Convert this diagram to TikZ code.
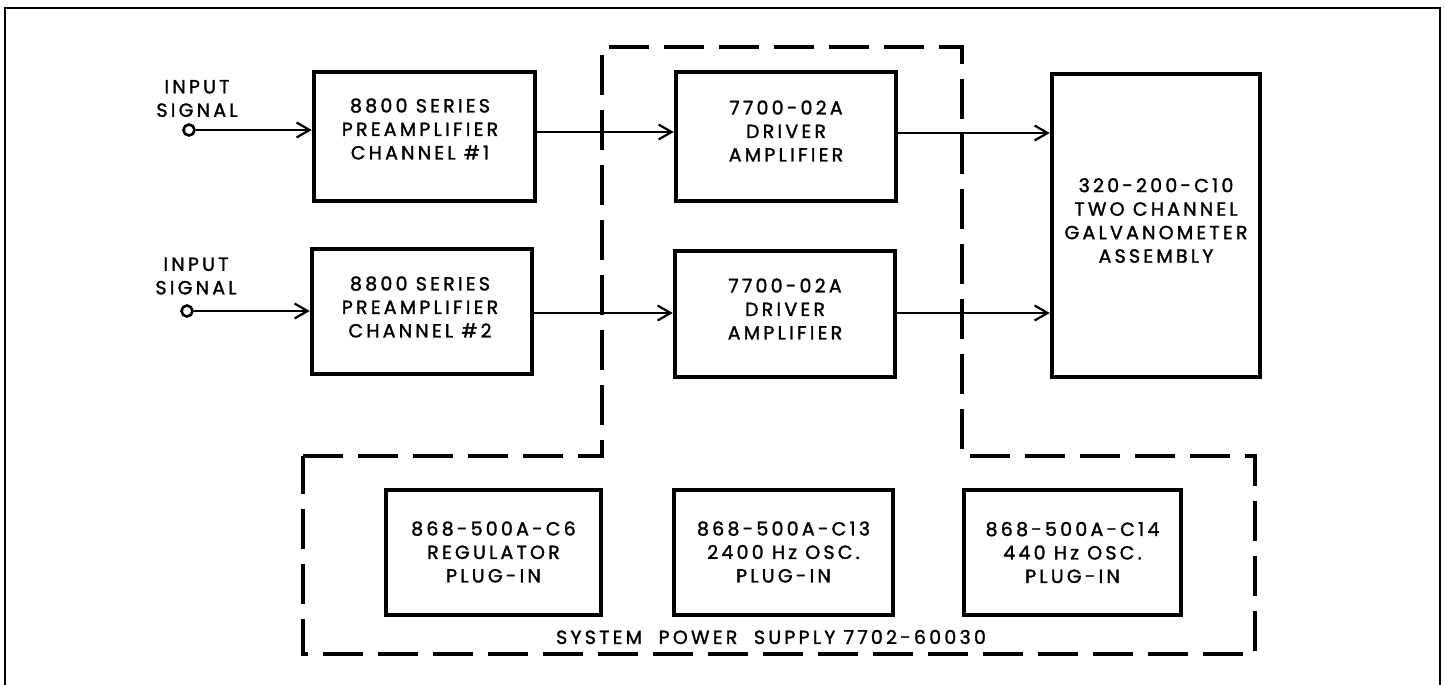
\documentclass[tikz,border=0pt]{standalone}
\usepackage{fontspec}
\setmainfont{Poppins}[LetterSpace=17,FakeBold=1.6]
\usetikzlibrary{arrows.meta,calc}
\begin{document}
\begin{tikzpicture}[x=1pt,y=-1pt,
  box/.style={draw,line width=4.5pt,inner sep=0pt},
  lbl/.style={font=\fontsize{19}{23.5}\selectfont,align=center,inner sep=0pt},
  conn/.style={line width=2.2pt,-{Straight Barb[length=13pt,width=15pt,line width=2.2pt]}},
  term/.style={draw,circle,line width=2.6pt,minimum size=11pt,inner sep=0pt},
  group/.style={line width=3.8pt,dash pattern=on 40pt off 15pt,line join=miter},
  frame/.style={line width=2pt}]
\useasboundingbox (0,0) rectangle (1445,685);
\draw[frame] (5,700) -- (5,8) -- (1440,8) -- (1440,700);

% dashed grouping outline
\draw[group] (303,456) -- (602,456) -- (602,47) -- (962,47) -- (962,456)
  -- (1255,456) -- (1255,654) -- (303,654) -- cycle;

% boxes
\node[box,minimum width=221pt,minimum height=129pt] (pre1) at (424.5,136.5) {};
\node[box,minimum width=220pt,minimum height=125pt] (pre2) at (422,311.5) {};
\node[box,minimum width=220pt,minimum height=129pt] (drv1) at (786,136.5) {};
\node[box,minimum width=220pt,minimum height=126pt] (drv2) at (785,314) {};
\node[box,minimum width=208pt,minimum height=303pt] (galv) at (1156,225.5) {};
\node[box,minimum width=215pt,minimum height=125pt] (reg) at (493.5,552.5) {};
\node[box,minimum width=219pt,minimum height=125pt] (oscA) at (783.5,552.5) {};
\node[box,minimum width=217pt,minimum height=125pt] (oscB) at (1072.5,552.5) {};

% box texts
\node[lbl] (pre1t) at (420,129) {8800 SERIES\\PREAMPLIFIER\\CHANNEL \#1};
\node[lbl] (pre2t) at (420,307) {8800 SERIES\\PREAMPLIFIER\\CHANNEL \#2};
\node[lbl] (drv1t) at (786,131) {7700-02A\\DRIVER\\AMPLIFIER};
\node[lbl] (drv2t) at (785,309) {7700-02A\\DRIVER\\AMPLIFIER};
\node[lbl] (galvt) at (1156,220.5) {320-200-C10\\TWO CHANNEL\\GALVANOMETER\\ASSEMBLY};
\node[lbl] (regt) at (493.5,552) {868-500A-C6\\REGULATOR\\PLUG-IN};
\node[lbl] (oscAt) at (783.5,552) {868-500A-C13\\2400 Hz OSC.\\PLUG-IN};
\node[lbl] (oscBt) at (1072.5,552.5) {868-500A-C14\\440 Hz OSC.\\PLUG-IN};
\node[lbl] (psu) at (771,637) {SYSTEM\ \ POWER\ \ SUPPLY 7702-60030};

% inputs
\node[term] (in1) at (189,130) {};
\node[term] (in2) at (187,311) {};
\node[lbl] (in1t) at (197,98.5) {INPUT\\SIGNAL};
\node[lbl] (in2t) at (196,276) {INPUT\\SIGNAL};

% connectors
\draw[conn] (in1.east) -- (in1 -| pre1.west);
\draw[conn] (in2.east) -- (in2 -| pre2.west);
\draw[conn] (pre1.east |- 0,132) -- (drv1.west |- 0,132);
\draw[conn] (pre2.east |- 0,313) -- (drv2.west |- 0,313);
\draw[conn] (drv1.east |- 0,133) -- (galv.west |- 0,133);
\draw[conn] (drv2.east |- 0,313) -- (galv.west |- 0,313);
\end{tikzpicture}
\end{document}
